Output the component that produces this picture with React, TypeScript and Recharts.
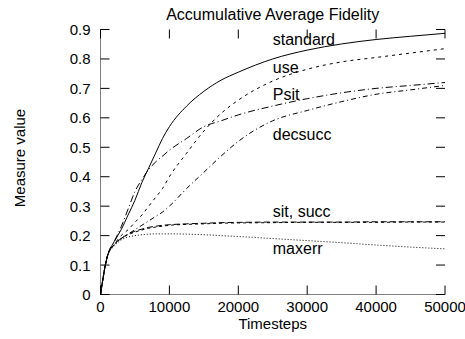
import { LineChart, Line, XAxis, YAxis, ReferenceDot } from 'recharts';

const timesteps = [0, 1000, 2000, 3000, 4000, 5000, 6000, 7000, 8000, 9000, 10000, 12500, 15000, 17500, 20000, 25000, 30000, 35000, 40000, 45000, 50000];

const standard = [0, 0.13, 0.18, 0.22, 0.27, 0.32, 0.38, 0.43, 0.48, 0.53, 0.57, 0.64, 0.69, 0.728, 0.755, 0.8, 0.83, 0.851, 0.866, 0.877, 0.887];
const use = [0, 0.13, 0.17, 0.2, 0.22, 0.245, 0.27, 0.3, 0.33, 0.36, 0.4, 0.48, 0.555, 0.615, 0.66, 0.725, 0.765, 0.79, 0.805, 0.82, 0.835];
const psit = [0, 0.13, 0.18, 0.23, 0.29, 0.35, 0.39, 0.425, 0.45, 0.47, 0.49, 0.53, 0.57, 0.59, 0.61, 0.64, 0.665, 0.685, 0.7, 0.71, 0.72];
const decsucc = [0, 0.13, 0.17, 0.19, 0.205, 0.22, 0.235, 0.25, 0.265, 0.28, 0.3, 0.36, 0.415, 0.47, 0.52, 0.59, 0.625, 0.655, 0.68, 0.695, 0.71];
const sit = [0, 0.13, 0.17, 0.19, 0.205, 0.215, 0.222, 0.228, 0.232, 0.235, 0.237, 0.24, 0.242, 0.244, 0.245, 0.246, 0.246, 0.246, 0.247, 0.247, 0.247];
const succ = [0, 0.13, 0.17, 0.19, 0.203, 0.212, 0.219, 0.225, 0.229, 0.232, 0.235, 0.238, 0.24, 0.242, 0.243, 0.244, 0.245, 0.245, 0.245, 0.246, 0.246];
const maxerr = [0, 0.13, 0.165, 0.185, 0.195, 0.2, 0.203, 0.205, 0.206, 0.206, 0.206, 0.205, 0.203, 0.2, 0.197, 0.19, 0.183, 0.176, 0.168, 0.161, 0.155];

const xTicks = [0, 10000, 20000, 30000, 40000, 50000];
const yTicks = [0, 0.1, 0.2, 0.3, 0.4, 0.5, 0.6, 0.7, 0.8, 0.9];

// in-plot curve names, placed at x = 25000
const noteNames = ['standard', 'use', 'Psit', 'decsucc', 'sit, succ', 'maxerr'];
const noteLevels = [0.865, 0.772, 0.68, 0.544, 0.284, 0.157];
const noteX = 25000;

const data = timesteps.map((t, i) => ({
  t,
  standard: standard[i],
  use: use[i],
  psit: psit[i],
  decsucc: decsucc[i],
  sit: sit[i],
  succ: succ[i],
  maxerr: maxerr[i],
}));

const series = [
  { key: 'standard', dash: undefined },
  { key: 'use', dash: '3 4' },
  { key: 'psit', dash: '7 3 1 3' },
  { key: 'decsucc', dash: '5 3 1 3' },
  { key: 'sit', dash: '6 3' },
  { key: 'succ', dash: '3 3' },
  { key: 'maxerr', dash: '1 2' },
];

const font = '"Liberation Sans", Arial, Helvetica, sans-serif';
const TICK = 9;

// gnuplot-style ticks pointing into the plot
function BottomTick({ x, y, payload }: any) {
  return (
    <g>
      <line x1={x} x2={x} y1={y} y2={y - TICK} stroke="#000" />
      <text x={x} y={y + 17.5} textAnchor="middle" fill="#000" fontSize={15}>{payload.value}</text>
    </g>
  );
}

function TopTick({ x, y }: any) {
  return <line x1={x} x2={x} y1={y} y2={y + TICK} stroke="#000" />;
}

function LeftTick({ x, y, payload }: any) {
  return (
    <g>
      <line x1={x} x2={x + TICK} y1={y} y2={y} stroke="#000" />
      <text x={x - 10} y={y + 5.5} textAnchor="end" fill="#000" fontSize={15}>{String(Math.round(payload.value * 10) / 10)}</text>
    </g>
  );
}

function RightTick({ x, y }: any) {
  return <line x1={x} x2={x - TICK} y1={y} y2={y} stroke="#000" />;
}

function YTitle(props: any) {
  const { viewBox } = props;
  const x = viewBox.x - 21;
  const y = viewBox.y + viewBox.height / 2 - 4;
  return (
    <text x={x} y={y} transform={`rotate(-90 ${x} ${y})`} textAnchor="middle" dominantBaseline="central" fill="#000" fontSize={15}>
      Measure value
    </text>
  );
}

export default function App() {
  return (
    <div style={{ position: 'absolute', left: 0, top: 0, width: 465, height: 339, background: '#fff', fontFamily: font }}>
      <LineChart width={465} height={339} data={data} margin={{ top: 28.5, right: 19, bottom: 10.5, left: 40.5 }}>
        <XAxis
          dataKey="t"
          type="number"
          domain={[0, 50000]}
          ticks={xTicks}
          allowDataOverflow
          height={34}
          tickSize={0}
          tickMargin={0}
          tickLine={false}
          tick={(p: any) => <BottomTick {...p} />}
          axisLine={{ stroke: '#000', strokeDasharray: '1 1' }}
          label={{ value: 'Timesteps', position: 'insideBottom', offset: 0, fill: '#000', fontSize: 15 }}
        />
        <XAxis
          xAxisId="top"
          orientation="top"
          dataKey="t"
          type="number"
          domain={[0, 50000]}
          ticks={xTicks}
          allowDataOverflow
          height={1}
          tickSize={0}
          tickMargin={0}
          tickLine={false}
          tick={(p: any) => <TopTick {...p} />}
          axisLine={false}
          label={{ value: 'Accumulative Average Fidelity', position: 'top', offset: 8.5, fill: '#000', fontSize: 16 }}
        />
        <YAxis
          type="number"
          domain={[0, 0.9]}
          ticks={yTicks}
          allowDataOverflow
          width={60}
          tickSize={0}
          tickMargin={0}
          tickLine={false}
          tick={(p: any) => <LeftTick {...p} />}
          axisLine={{ stroke: '#000', strokeDasharray: '1 1' }}
          label={<YTitle />}
        />
        <YAxis
          yAxisId="right"
          orientation="right"
          type="number"
          domain={[0, 0.9]}
          ticks={yTicks}
          allowDataOverflow
          width={1}
          tickSize={0}
          tickMargin={0}
          tickLine={false}
          tick={(p: any) => <RightTick {...p} />}
          axisLine={false}
        />
        {series.map((s) => (
          <Line
            key={s.key}
            dataKey={s.key}
            type="monotone"
            stroke="#000"
            strokeWidth={1}
            strokeDasharray={s.dash}
            dot={false}
            activeDot={false}
            isAnimationActive={false}
          />
        ))}
        {noteNames.map((name, i) => (
          <ReferenceDot
            key={name}
            x={noteX}
            y={noteLevels[i]}
            r={0}
            stroke="none"
            fill="none"
            label={{ value: name, position: 'right', offset: 0, fill: '#000', fontSize: 16 }}
          />
        ))}
      </LineChart>
    </div>
  );
}
